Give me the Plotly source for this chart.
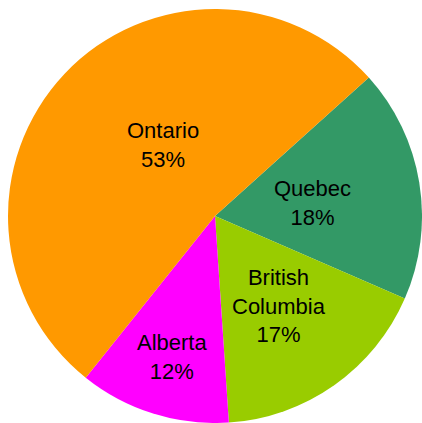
import math
import plotly.graph_objects as go

labels = ["Quebec", "British Columbia", "Alberta", "Ontario"]
values = [18.2, 17.4, 11.8, 52.6]
colors = ["#339966", "#99CC00", "#FF00FF", "#FF9900"]

# label placement style: radial fraction of radius and angular nudge (degrees)
label_radius = [0.473, 0.534, 0.711, 0.426]
label_nudge = [1.5, 0, -0.6, 10.5]

ROTATION = 48

fig = go.Figure(go.Pie(
    labels=labels,
    values=values,
    textinfo="none",
    sort=False,
    direction="clockwise",
    rotation=ROTATION,
    marker=dict(colors=colors, line=dict(width=0)),
    hoverinfo="label+percent",
    showlegend=False,
))

total = sum(values)
start = ROTATION
annotations = []
for lab, v, rf, nd in zip(labels, values, label_radius, label_nudge):
    span = v / total * 360
    mid = math.radians(start + span / 2 + nd)
    start += span
    x = 0.5 + rf * 0.5 * math.sin(mid)
    y = 0.5 + rf * 0.5 * math.cos(mid)
    txt = lab.replace(" ", "<br>") + "<br>" + f"{round(v / total * 100)}%"
    annotations.append(dict(
        x=x, y=y, xref="paper", yref="paper", text=txt, showarrow=False,
        xanchor="center", yanchor="middle", align="center",
        font=dict(family="Liberation Sans, Arial, sans-serif", size=22, color="black"),
    ))

fig.update_layout(
    width=422, height=423,
    margin=dict(l=8, r=0, t=9, b=0),
    paper_bgcolor="white",
    plot_bgcolor="white",
    showlegend=False,
    annotations=annotations,
)

fig.write_html("out.html")
